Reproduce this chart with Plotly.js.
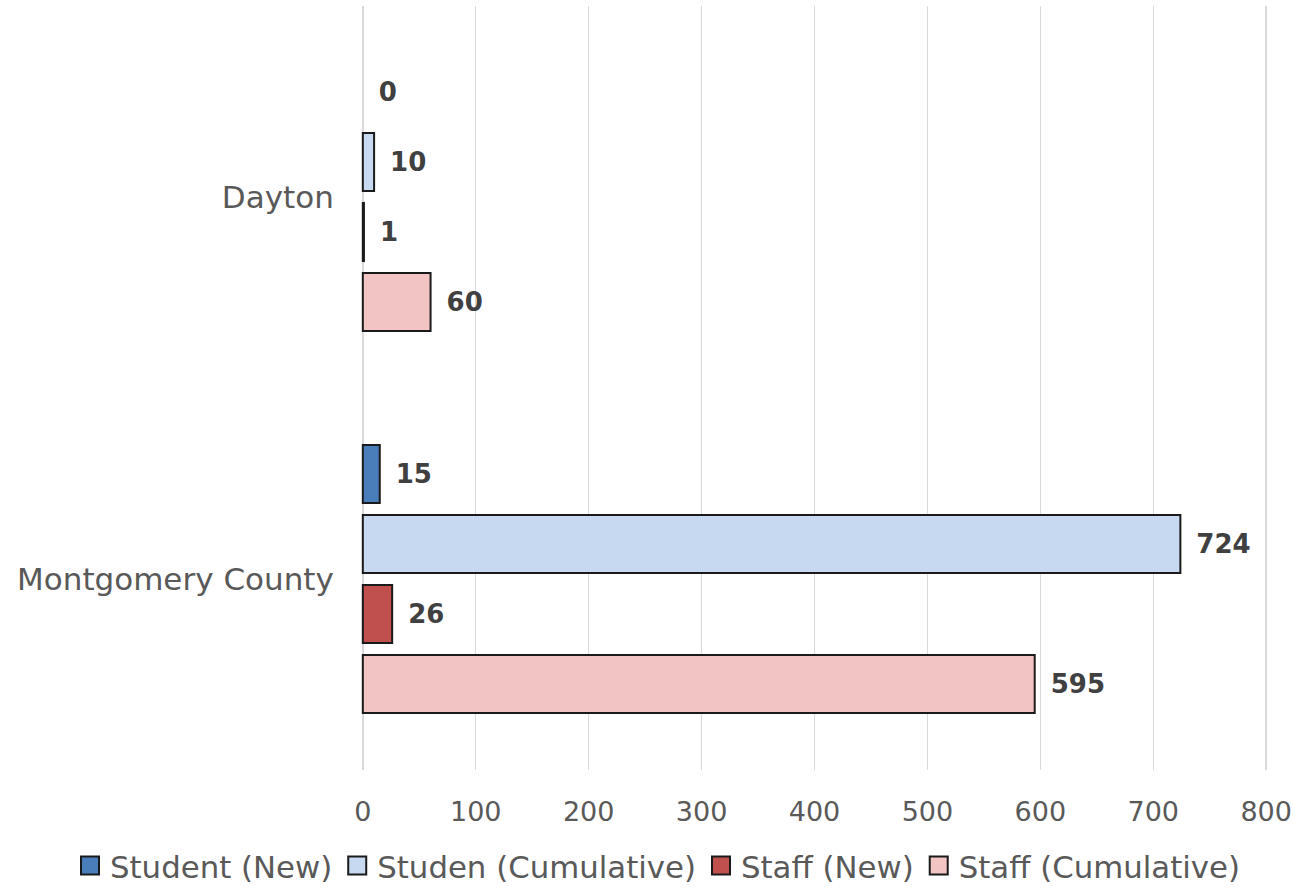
<!DOCTYPE html>
<html>
<head>
<meta charset="utf-8">
<script src="https://cdn.plot.ly/plotly-3.0.1.min.js"></script>
<style>html,body{margin:0;padding:0;background:#fff;}#chart{width:1295px;height:890px;}</style>
</head>
<body>
<div id="chart"></div>
<script>
const categories = ['Dayton', 'Montgomery County'];
const seriesNames = ['Student (New)', 'Studen (Cumulative)', 'Staff (New)', 'Staff (Cumulative)'];
const studentNew = [0, 15];
const studentCumulative = [10, 724];
const staffNew = [1, 26];
const staffCumulative = [60, 595];
const xTicks = [0, 100, 200, 300, 400, 500, 600, 700, 800];

const colors = ['#4a7ebb', '#c6d9f1', '#c0504d', '#f2c4c4'];
const allValues = [studentNew, studentCumulative, staffNew, staffCumulative];
const FONT = '"DejaVu Sans", Verdana, sans-serif';

const traces = allValues.map((vals, i) => ({
  type: 'bar',
  orientation: 'h',
  name: seriesNames[i],
  y: categories,
  x: vals,
  marker: {color: colors[i], line: {color: '#1a1a1a', width: vals.map(v => v === 0 ? 0 : 2)}},
  text: vals.map(v => '\u2002' + v),
  textposition: 'outside',
  cliponaxis: false,
  textfont: {family: FONT, size: 26, color: '#404040', weight: 'bold'},
  hoverinfo: 'x+name'
}));

const layout = {
  width: 1295,
  height: 890,
  margin: {l: 361, r: 27, t: 6, b: 120, autoexpand: false},
  paper_bgcolor: '#ffffff',
  plot_bgcolor: '#ffffff',
  barmode: 'group',
  bargap: 0.267,
  bargroupgap: 0.17,
  font: {family: FONT, color: '#595959', size: 28},
  xaxis: {
    range: [-1.6, 801.6],
    tickvals: xTicks,
    ticktext: xTicks.map(String),
    showgrid: true,
    gridcolor: '#d9d9d9',
    gridwidth: 1.5,
    zeroline: false,
    showline: false,
    ticks: 'outside',
    ticklen: 18,
    tickcolor: 'rgba(0,0,0,0)',
    tickfont: {family: FONT, size: 27, color: '#595959'},
    fixedrange: true
  },
  yaxis: {
    autorange: 'reversed',
    showgrid: false,
    zeroline: false,
    showline: false,
    ticks: 'outside',
    ticklen: 20,
    tickcolor: 'rgba(0,0,0,0)',
    tickfont: {family: FONT, size: 31, color: '#595959'},
    fixedrange: true
  },
  showlegend: true,
  legend: {
    orientation: 'h',
    x: (70 - 361) / 907,
    xanchor: 'left',
    y: -0.1257,
    yanchor: 'middle',
    font: {family: FONT, size: 30.8, color: '#595959'},
    itemwidth: 30,
    traceorder: 'normal'
  }
};

Plotly.newPlot('chart', traces, layout, {displayModeBar: false, staticPlot: true}).then(gd => {
  gd.querySelectorAll('.legend .legendpoints path').forEach(p => {
    p.setAttribute('d', 'M9,9H-9V-9H9Z');
    p.style.stroke = '#1a1a1a';
    p.style.strokeWidth = '2px';
  });
});
</script>
</body>
</html>
